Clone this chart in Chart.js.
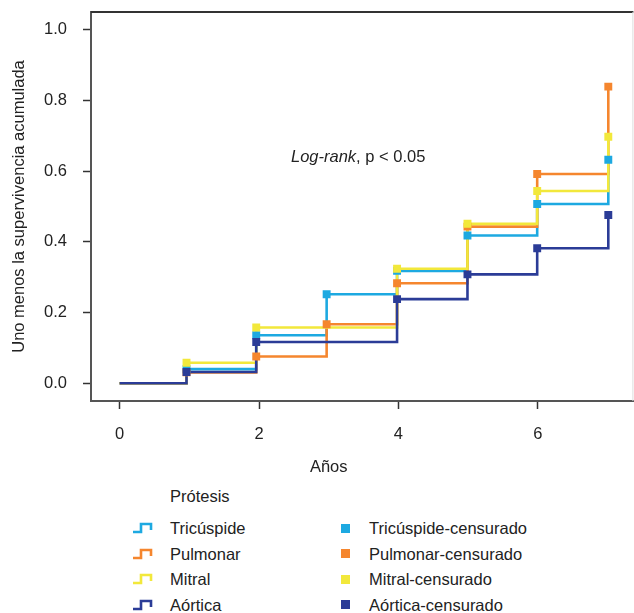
<!DOCTYPE html>
<html>
<head>
<meta charset="utf-8">
<script src="https://cdn.jsdelivr.net/npm/chart.js@4"></script>
<style>
  html, body { margin: 0; background: #fff; overflow: hidden; }
  body { font-family: 'Liberation Sans', Arial, sans-serif; color: #222; }
  #wrap { position: relative; width: 634px; height: 613px; overflow: hidden; }
  #chart { position: absolute; left: 0; top: 0; }
  .leg { position: absolute; font-size: 16.5px; line-height: 20px; white-space: nowrap; }
  .sq { position: absolute; width: 9px; height: 9px; }
  .ico { position: absolute; }
</style>
</head>
<body>
<div id="wrap">
  <canvas id="chart" width="639" height="480"></canvas>
  <div id="legend"></div>
</div>
<script>
// step times (years) and 1 - survival for each prosthesis
const times = [0, 0.96, 1.96, 2.97, 3.98, 4.99, 5.99, 7.01];
const tricuspide = [0, 0.040, 0.136, 0.252, 0.318, 0.418, 0.507, 0.632];
const pulmonar = [0, 0.031, 0.076, 0.167, 0.283, 0.443, 0.592, 0.839];
const mitral = [0, 0.058, 0.158, 0.158, 0.324, 0.451, 0.544, 0.697];
const aortica = [0, 0.032, 0.117, 0.117, 0.238, 0.308, 0.382, 0.476];

const seriesNames = ['Tricúspide', 'Pulmonar', 'Mitral', 'Aórtica'];
const seriesColors = ['#1DA9E1', '#F5862E', '#F2E83B', '#2B3C97'];
const xTicks = [0, 2, 4, 6];
const yTicks = [0, 0.2, 0.4, 0.6, 0.8, 1.0];

const FONT = "'Liberation Sans', Arial, sans-serif";

function stepLine(name, values, color, order) {
    return {
        label: name,
        data: times.map((t, i) => ({x: t, y: values[i]})),
        borderColor: color,
        backgroundColor: color,
        borderWidth: 2.6,
        stepped: 'before',
        pointRadius: 0,
        pointHoverRadius: 0,
        order: order
    };
}

// censored markers only where the curve actually steps
function censored(name, values, color, order) {
    const pts = [];
    values.forEach((v, i) => {
        if (i > 0 && v !== values[i - 1]) pts.push({x: times[i], y: v});
    });
    return {
        label: name + '-censurado',
        data: pts,
        showLine: false,
        backgroundColor: color,
        borderColor: color,
        pointStyle: 'rect',
        pointRadius: 5.6,
        pointBorderWidth: 0,
        pointHoverRadius: 0,
        order: order
    };
}

const allValues = [tricuspide, pulmonar, mitral, aortica];
const datasets = [];
allValues.forEach((vals, i) => {
    datasets.push(stepLine(seriesNames[i], vals, seriesColors[i], 13 - i));
    datasets.push(censored(seriesNames[i], vals, seriesColors[i], 3 - i));
});

const extras = {
    id: 'extras',
    afterDraw(chart) {
        const ctx = chart.ctx;
        const a = chart.chartArea;
        const xs = chart.scales.x;
        const ys = chart.scales.y;
        ctx.save();
        // top frame line + faint right edge
        ctx.strokeStyle = '#333';
        ctx.lineWidth = 2;
        ctx.beginPath();
        ctx.moveTo(a.left, a.top);
        ctx.lineTo(a.right, a.top);
        ctx.stroke();
        ctx.strokeStyle = '#ddd';
        ctx.lineWidth = 1;
        ctx.beginPath();
        ctx.moveTo(a.right - 0.5, a.top);
        ctx.lineTo(a.right - 0.5, a.bottom);
        ctx.stroke();

        ctx.fillStyle = '#222';
        ctx.textBaseline = 'middle';
        // x title
        ctx.font = '16.5px ' + FONT;
        ctx.textAlign = 'center';
        ctx.fillText('Años', xs.getPixelForValue(3), 467);
        // y title
        ctx.save();
        ctx.translate(19, (a.top + a.bottom) / 2);
        ctx.rotate(-Math.PI / 2);
        ctx.fillText('Uno menos la supervivencia acumulada', 0, 0);
        ctx.restore();
        // log-rank note
        ctx.textAlign = 'left';
        const nx = 291, ny = ys.getPixelForValue(0.64);
        ctx.font = 'italic 16.5px ' + FONT;
        ctx.fillText('Log-rank', nx, ny);
        const w = ctx.measureText('Log-rank').width;
        ctx.font = '16.5px ' + FONT;
        ctx.fillText(', p < 0.05', nx + w, ny);
        ctx.restore();
    }
};

function noPad(s) {
    s.paddingTop = 0;
    s.paddingBottom = 0;
    s.paddingLeft = 0;
    s.paddingRight = 0;
}

new Chart(document.getElementById('chart'), {
    type: 'line',
    data: {datasets: datasets},
    options: {
        responsive: false,
        animation: false,
        devicePixelRatio: 1,
        layout: {padding: {top: 12, right: 1, left: 0, bottom: 0}},
        plugins: {legend: {display: false}, tooltip: {enabled: false}},
        scales: {
            x: {
                type: 'linear',
                min: -0.41,
                max: 7.37,
                afterBuildTicks: s => { s.ticks = xTicks.map(v => ({value: v})); },
                afterFit: s => { s.height = 79; noPad(s); },
                grid: {drawOnChartArea: false, drawTicks: true, tickLength: 8, tickColor: '#333', tickWidth: 1.5},
                border: {display: true, color: '#555', width: 2},
                ticks: {padding: 16, color: '#222', font: {family: FONT, size: 16.5}}
            },
            y: {
                min: -0.05,
                max: 1.05,
                afterBuildTicks: s => { s.ticks = yTicks.map(v => ({value: v})); },
                afterFit: s => { s.width = 91; noPad(s); },
                grid: {drawOnChartArea: false, drawTicks: true, tickLength: 8, tickColor: '#333', tickWidth: 1.5},
                border: {display: true, color: '#555', width: 2},
                ticks: {padding: 16, color: '#222', font: {family: FONT, size: 16.5}, callback: v => v.toFixed(1)}
            }
        }
    },
    plugins: [extras]
});

// legend below the plot
const legend = document.getElementById('legend');
const rowY = [528, 553.5, 579, 604.5];
let html = '<div class="leg" style="left:170px;top:' + (496 - 10) + 'px">Prótesis</div>';
seriesNames.forEach((name, i) => {
    const y = rowY[i];
    const c = seriesColors[i];
    html += '<svg class="ico" width="22" height="14" style="left:132px;top:' + (y - 7) + 'px">' +
        '<path d="M1 11 H9 V3 H19 V9" fill="none" stroke="' + c + '" stroke-width="2.6"/></svg>';
    html += '<div class="leg" style="left:170px;top:' + (y - 10) + 'px">' + name + '</div>';
    html += '<div class="sq" style="left:341px;top:' + (y - 4.5) + 'px;background:' + c + '"></div>';
    html += '<div class="leg" style="left:369px;top:' + (y - 10) + 'px">' + name + '-censurado</div>';
});
legend.innerHTML = html;
</script>
</body>
</html>
